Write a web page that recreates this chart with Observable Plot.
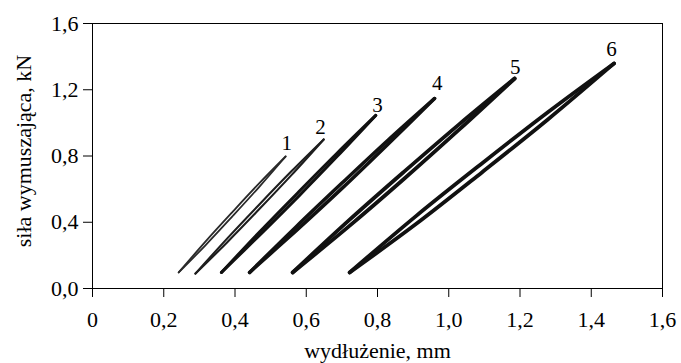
<!DOCTYPE html>
<html>
<head>
<meta charset="utf-8">
<script src="https://cdn.jsdelivr.net/npm/d3@7"></script>
<script src="https://cdn.jsdelivr.net/npm/@observablehq/plot@0.6"></script>
<style>
  html, body { margin: 0; padding: 0; background: white; }
  #chart svg, #chart svg text { font-family: "Liberation Serif", "Times New Roman", Times, serif !important; }
</style>
</head>
<body>
<div id="chart"></div>
<script>
// Tick values
const xTicks = [0, 0.2, 0.4, 0.6, 0.8, 1.0, 1.2, 1.4, 1.6];
const yTicks = [0, 0.4, 0.8, 1.2, 1.6];

// Hysteresis loops: upper (unloading) and lower (loading) branches, [wydłużenie mm, siła kN]
const loop1Up  = [[0.242,0.097],[0.317,0.283],[0.392,0.460],[0.467,0.633],[0.542,0.797]];
const loop1Low = [[0.242,0.097],[0.317,0.261],[0.392,0.434],[0.467,0.611],[0.542,0.797]];
const loop2Up  = [[0.289,0.090],[0.379,0.304],[0.469,0.509],[0.559,0.709],[0.649,0.900]];
const loop2Low = [[0.289,0.090],[0.379,0.281],[0.469,0.481],[0.559,0.686],[0.649,0.900]];
const loop3Up  = [[0.362,0.097],[0.470,0.344],[0.579,0.584],[0.687,0.818],[0.795,1.045]];
const loop3Low = [[0.362,0.097],[0.470,0.324],[0.579,0.558],[0.687,0.798],[0.795,1.045]];
const loop4Up  = [[0.441,0.097],[0.571,0.372],[0.701,0.638],[0.830,0.897],[0.960,1.147]];
const loop4Low = [[0.441,0.097],[0.571,0.348],[0.701,0.606],[0.830,0.873],[0.960,1.147]];
const loop5Up  = [[0.562,0.097],[0.718,0.408],[0.874,0.704],[1.029,0.991],[1.185,1.268]];
const loop5Low = [[0.562,0.097],[0.718,0.372],[0.874,0.661],[1.029,0.959],[1.185,1.268]];
const loop6Up  = [[0.722,0.097],[0.908,0.437],[1.093,0.755],[1.279,1.066],[1.464,1.359]];
const loop6Low = [[0.722,0.097],[0.908,0.389],[1.093,0.701],[1.279,1.022],[1.464,1.359]];

// Curve labels
const labelText = ["1", "2", "3", "4", "5", "6"];
const labelX = [0.545, 0.640, 0.800, 0.968, 1.187, 1.457];
const labelY = [0.876, 0.972, 1.105, 1.238, 1.335, 1.443];

const branches = [
  {loop: 1, side: "up", pts: loop1Up}, {loop: 1, side: "low", pts: loop1Low},
  {loop: 2, side: "up", pts: loop2Up}, {loop: 2, side: "low", pts: loop2Low},
  {loop: 3, side: "up", pts: loop3Up}, {loop: 3, side: "low", pts: loop3Low},
  {loop: 4, side: "up", pts: loop4Up}, {loop: 4, side: "low", pts: loop4Low},
  {loop: 5, side: "up", pts: loop5Up}, {loop: 5, side: "low", pts: loop5Low},
  {loop: 6, side: "up", pts: loop6Up}, {loop: 6, side: "low", pts: loop6Low}
];
const widthByLoop = {1: 1.8, 2: 2.1, 3: 3, 4: 3.5, 5: 3.8, 6: 3.8};
const colorByLoop = {1: "#2a2a2a", 2: "#1e1e1e", 3: "#111", 4: "#111", 5: "#111", 6: "#111"};
const rows = branches.flatMap(b => b.pts.map(([x, y]) => ({x, y, key: b.loop + b.side, loop: b.loop})));
const labels = labelText.map((t, i) => ({t, x: labelX[i], y: labelY[i]}));

const comma = d => d.toFixed(1).replace(".", ",");
const fx = d => d === 0 ? "0" : comma(d);

const lineMarks = [1, 2, 3, 4, 5, 6].map(n =>
  Plot.line(rows.filter(r => r.loop === n), {
    x: "x", y: "y", z: "key", curve: "catmull-rom",
    stroke: colorByLoop[n], strokeWidth: widthByLoop[n], strokeLinecap: "round", strokeLinejoin: "round"
  })
);

const chart = Plot.plot({
  width: 681,
  height: 363,
  marginLeft: 92,
  marginRight: 19,
  marginTop: 23,
  marginBottom: 75,
  style: {fontSize: "22px", color: "black", background: "white"},
  x: {domain: [0, 1.6]},
  y: {domain: [0, 1.6]},
  marks: [
    Plot.frame({stroke: "black", strokeWidth: 1}),
    Plot.axisX({ticks: xTicks, tickSize: 9, tickPadding: 14, tickFormat: fx, label: null, stroke: "black", fontSize: 22}),
    Plot.axisY({ticks: yTicks, tickSize: 9, tickPadding: 5, tickFormat: comma, label: null, stroke: "black", fontSize: 22}),
    ...lineMarks,
    Plot.text(labels, {x: "x", y: "y", text: "t", fontSize: 21, fill: "black", lineAnchor: "middle"}),
    Plot.text(["wydłużenie, mm"], {frameAnchor: "bottom", dy: 62, lineAnchor: "middle", fontSize: 22, fill: "black"}),
    Plot.text(["siła wymuszająca, kN"], {frameAnchor: "left", dx: -69, dy: -5, rotate: -90, textAnchor: "middle", lineAnchor: "middle", fontSize: 22, fill: "black"})
  ]
});
document.getElementById("chart").appendChild(chart);
</script>
</body>
</html>
